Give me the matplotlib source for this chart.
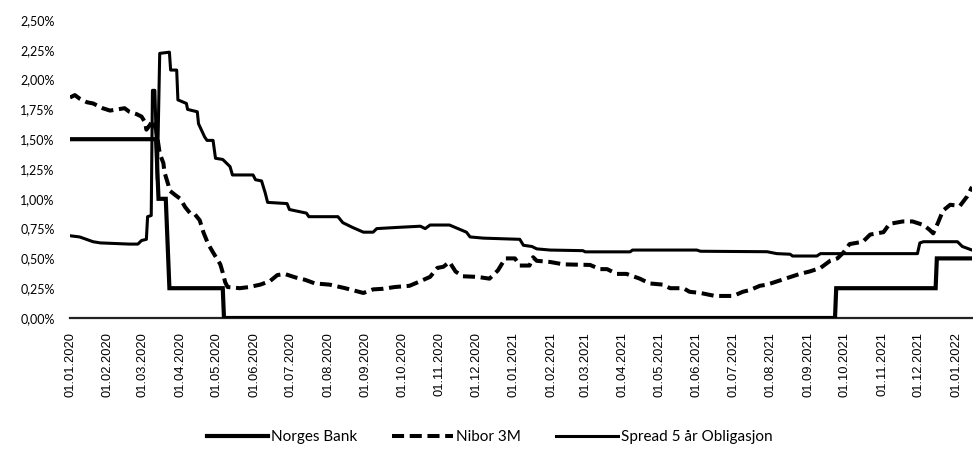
import numpy as np
import pandas as pd
import matplotlib
matplotlib.use('Agg')
import matplotlib.pyplot as plt
import matplotlib.dates as mdates
from matplotlib.ticker import FuncFormatter

# Norges Bank policy rate (%)
nb_dates = ['2020-01-01', '2020-03-12', '2020-03-14', '2020-03-20', '2020-03-23',
            '2020-05-06', '2020-05-07', '2021-09-23', '2021-09-24', '2021-12-15',
            '2021-12-16', '2022-01-14']
nb_vals = [1.50, 1.50, 1.00, 1.00, 0.25, 0.25, 0.00, 0.00, 0.25, 0.25, 0.50, 0.50]

# Nibor 3M (%)
nibor_dates = ['2020-01-01', '2020-01-05', '2020-01-09', '2020-01-15', '2020-01-20',
               '2020-01-28', '2020-02-03', '2020-02-09', '2020-02-15', '2020-02-19',
               '2020-02-25', '2020-02-29', '2020-03-03', '2020-03-04', '2020-03-07',
               '2020-03-09', '2020-03-12', '2020-03-14', '2020-03-15', '2020-03-18',
               '2020-03-19', '2020-03-22', '2020-03-23', '2020-03-28', '2020-04-01',
               '2020-04-05', '2020-04-09', '2020-04-13', '2020-04-17', '2020-04-20',
               '2020-04-24', '2020-04-28', '2020-05-01', '2020-05-04', '2020-05-06',
               '2020-05-08', '2020-05-10', '2020-05-20', '2020-05-28', '2020-06-06',
               '2020-06-14', '2020-06-20', '2020-06-26', '2020-07-05', '2020-07-13',
               '2020-07-21', '2020-08-02', '2020-08-15', '2020-08-30', '2020-09-07',
               '2020-09-15', '2020-09-25', '2020-10-07', '2020-10-14', '2020-10-24',
               '2020-10-30', '2020-11-04', '2020-11-09', '2020-11-14', '2020-11-20',
               '2020-12-02', '2020-12-12', '2020-12-19', '2020-12-25', '2021-01-02',
               '2021-01-06', '2021-01-14', '2021-01-17', '2021-01-20', '2021-01-31',
               '2021-02-11', '2021-03-05', '2021-03-13', '2021-03-19', '2021-03-27',
               '2021-04-04', '2021-04-15', '2021-04-23', '2021-05-04', '2021-05-10',
               '2021-05-21', '2021-05-26', '2021-06-04', '2021-06-16', '2021-07-01',
               '2021-07-09', '2021-07-15', '2021-07-23', '2021-07-29', '2021-08-10',
               '2021-08-25', '2021-09-02', '2021-09-11', '2021-09-19', '2021-09-25',
               '2021-09-30', '2021-10-05', '2021-10-16', '2021-10-22', '2021-11-02',
               '2021-11-07', '2021-11-18', '2021-11-26', '2021-12-05', '2021-12-10',
               '2021-12-13', '2021-12-17', '2021-12-21', '2021-12-27', '2022-01-04',
               '2022-01-10', '2022-01-14']
nibor_vals = [1.85, 1.87, 1.84, 1.81, 1.80, 1.76, 1.74, 1.75, 1.76, 1.73,
              1.71, 1.69, 1.64, 1.58, 1.62, 1.66, 1.58, 1.45, 1.38, 1.30,
              1.22, 1.12, 1.07, 1.03, 1.00, 0.93, 0.88, 0.87, 0.82, 0.72,
              0.62, 0.55, 0.50, 0.45, 0.38, 0.30, 0.26, 0.25, 0.26, 0.28,
              0.31, 0.36, 0.37, 0.34, 0.32, 0.29, 0.28, 0.25, 0.21, 0.24,
              0.245, 0.26, 0.27, 0.30, 0.345, 0.42, 0.43, 0.47, 0.39, 0.35,
              0.345, 0.33, 0.40, 0.50, 0.50, 0.44, 0.44, 0.51, 0.48, 0.47,
              0.45, 0.445, 0.41, 0.41, 0.37, 0.37, 0.33, 0.29, 0.28, 0.25,
              0.25, 0.22, 0.21, 0.185, 0.185, 0.22, 0.235, 0.27, 0.28, 0.32,
              0.37, 0.39, 0.42, 0.48, 0.50, 0.55, 0.62, 0.64, 0.70, 0.72,
              0.79, 0.81, 0.81, 0.78, 0.74, 0.71, 0.80, 0.90, 0.95, 0.94,
              1.02, 1.10]

# Spread 5 år obligasjon (%)
spread_dates = ['2020-01-01', '2020-01-09', '2020-01-20', '2020-01-26', '2020-02-19',
                '2020-02-26', '2020-02-29', '2020-03-04', '2020-03-05', '2020-03-08',
                '2020-03-09', '2020-03-11', '2020-03-13', '2020-03-15', '2020-03-23',
                '2020-03-24', '2020-03-29', '2020-03-30', '2020-04-06', '2020-04-07',
                '2020-04-15', '2020-04-16', '2020-04-21', '2020-04-23', '2020-04-28',
                '2020-04-30', '2020-05-06', '2020-05-12', '2020-05-14', '2020-05-31',
                '2020-06-02', '2020-06-07', '2020-06-10', '2020-06-12', '2020-06-28',
                '2020-06-30', '2020-07-14', '2020-07-16', '2020-08-09', '2020-08-13',
                '2020-08-21', '2020-08-30', '2020-09-07', '2020-09-10', '2020-09-27',
                '2020-10-16', '2020-10-20', '2020-10-24', '2020-11-09', '2020-11-16',
                '2020-11-23', '2020-11-26', '2020-12-07', '2021-01-06', '2021-01-09',
                '2021-01-16', '2021-01-20', '2021-01-31', '2021-02-27', '2021-03-01',
                '2021-04-07', '2021-04-09', '2021-06-01', '2021-06-04', '2021-07-29',
                '2021-08-06', '2021-08-17', '2021-08-19', '2021-09-08', '2021-09-11',
                '2021-11-30', '2021-12-02', '2021-12-05', '2022-01-02', '2022-01-06',
                '2022-01-14']
spread_vals = [0.69, 0.68, 0.64, 0.63, 0.62, 0.62, 0.65, 0.66, 0.85, 0.86,
               1.91, 1.91, 1.16, 2.22, 2.23, 2.08, 2.08, 1.83, 1.80, 1.75,
               1.73, 1.63, 1.52, 1.49, 1.49, 1.34, 1.33, 1.27, 1.20, 1.20,
               1.16, 1.15, 1.05, 0.97, 0.96, 0.91, 0.88, 0.85, 0.85, 0.80,
               0.76, 0.72, 0.72, 0.75, 0.76, 0.77, 0.75, 0.78, 0.78, 0.75,
               0.72, 0.68, 0.67, 0.66, 0.61, 0.60, 0.58, 0.57, 0.565, 0.555,
               0.555, 0.57, 0.57, 0.56, 0.556, 0.54, 0.535, 0.52, 0.52, 0.54,
               0.54, 0.63, 0.64, 0.64, 0.60, 0.57]

tick_dates = pd.date_range('2020-01-01', '2022-01-01', freq='MS')
y_ticks = np.arange(0, 2.51, 0.25)

fig = plt.figure(figsize=(9.73, 4.53), dpi=100)
ax = fig.add_axes([70 / 973, 135 / 453, 902 / 973, 298 / 453])

ax.plot(pd.to_datetime(nb_dates), nb_vals, color='black', lw=3.0,
        solid_joinstyle='miter', label='Norges Bank')
ax.plot(pd.to_datetime(nibor_dates), nibor_vals, color='black', lw=2.9,
        dashes=(3, 1.4), label='Nibor 3M')
ax.plot(pd.to_datetime(spread_dates), spread_vals, color='black', lw=2.2,
        label='Spread 5 år Obligasjon')

ax.set_xlim(pd.Timestamp('2020-01-01'), pd.Timestamp('2022-01-14'))
ax.set_ylim(0, 2.5)
ax.set_yticks(y_ticks)
ax.yaxis.set_major_formatter(FuncFormatter(lambda v, p: f'{v:.2f}'.replace('.', ',') + '%'))
ax.set_xticks(tick_dates)
ax.xaxis.set_major_formatter(mdates.DateFormatter('%d.%m.%Y'))

for lab in ax.get_xticklabels():
    lab.set_rotation(90)
    lab.set_family('Liberation Sans')
    lab.set_fontsize(9.3)
for lab in ax.get_yticklabels():
    lab.set_family('Lato')
    lab.set_fontsize(9)

ax.tick_params(axis='both', length=0)
ax.tick_params(axis='y', pad=11)
ax.tick_params(axis='x', pad=10)
for s in ['top', 'right', 'left']:
    ax.spines[s].set_visible(False)
ax.spines['bottom'].set_color('#222222')
ax.spines['bottom'].set_linewidth(1.6)
ax.spines['bottom'].set_zorder(0)

fig.legend(loc='center', bbox_to_anchor=(0.503, 0.035), ncol=3, frameon=False,
           prop={'family': 'Lato', 'size': 11}, handlelength=4.0,
           handletextpad=0.2, columnspacing=2.3)

plt.savefig('out.png', dpi=100)
